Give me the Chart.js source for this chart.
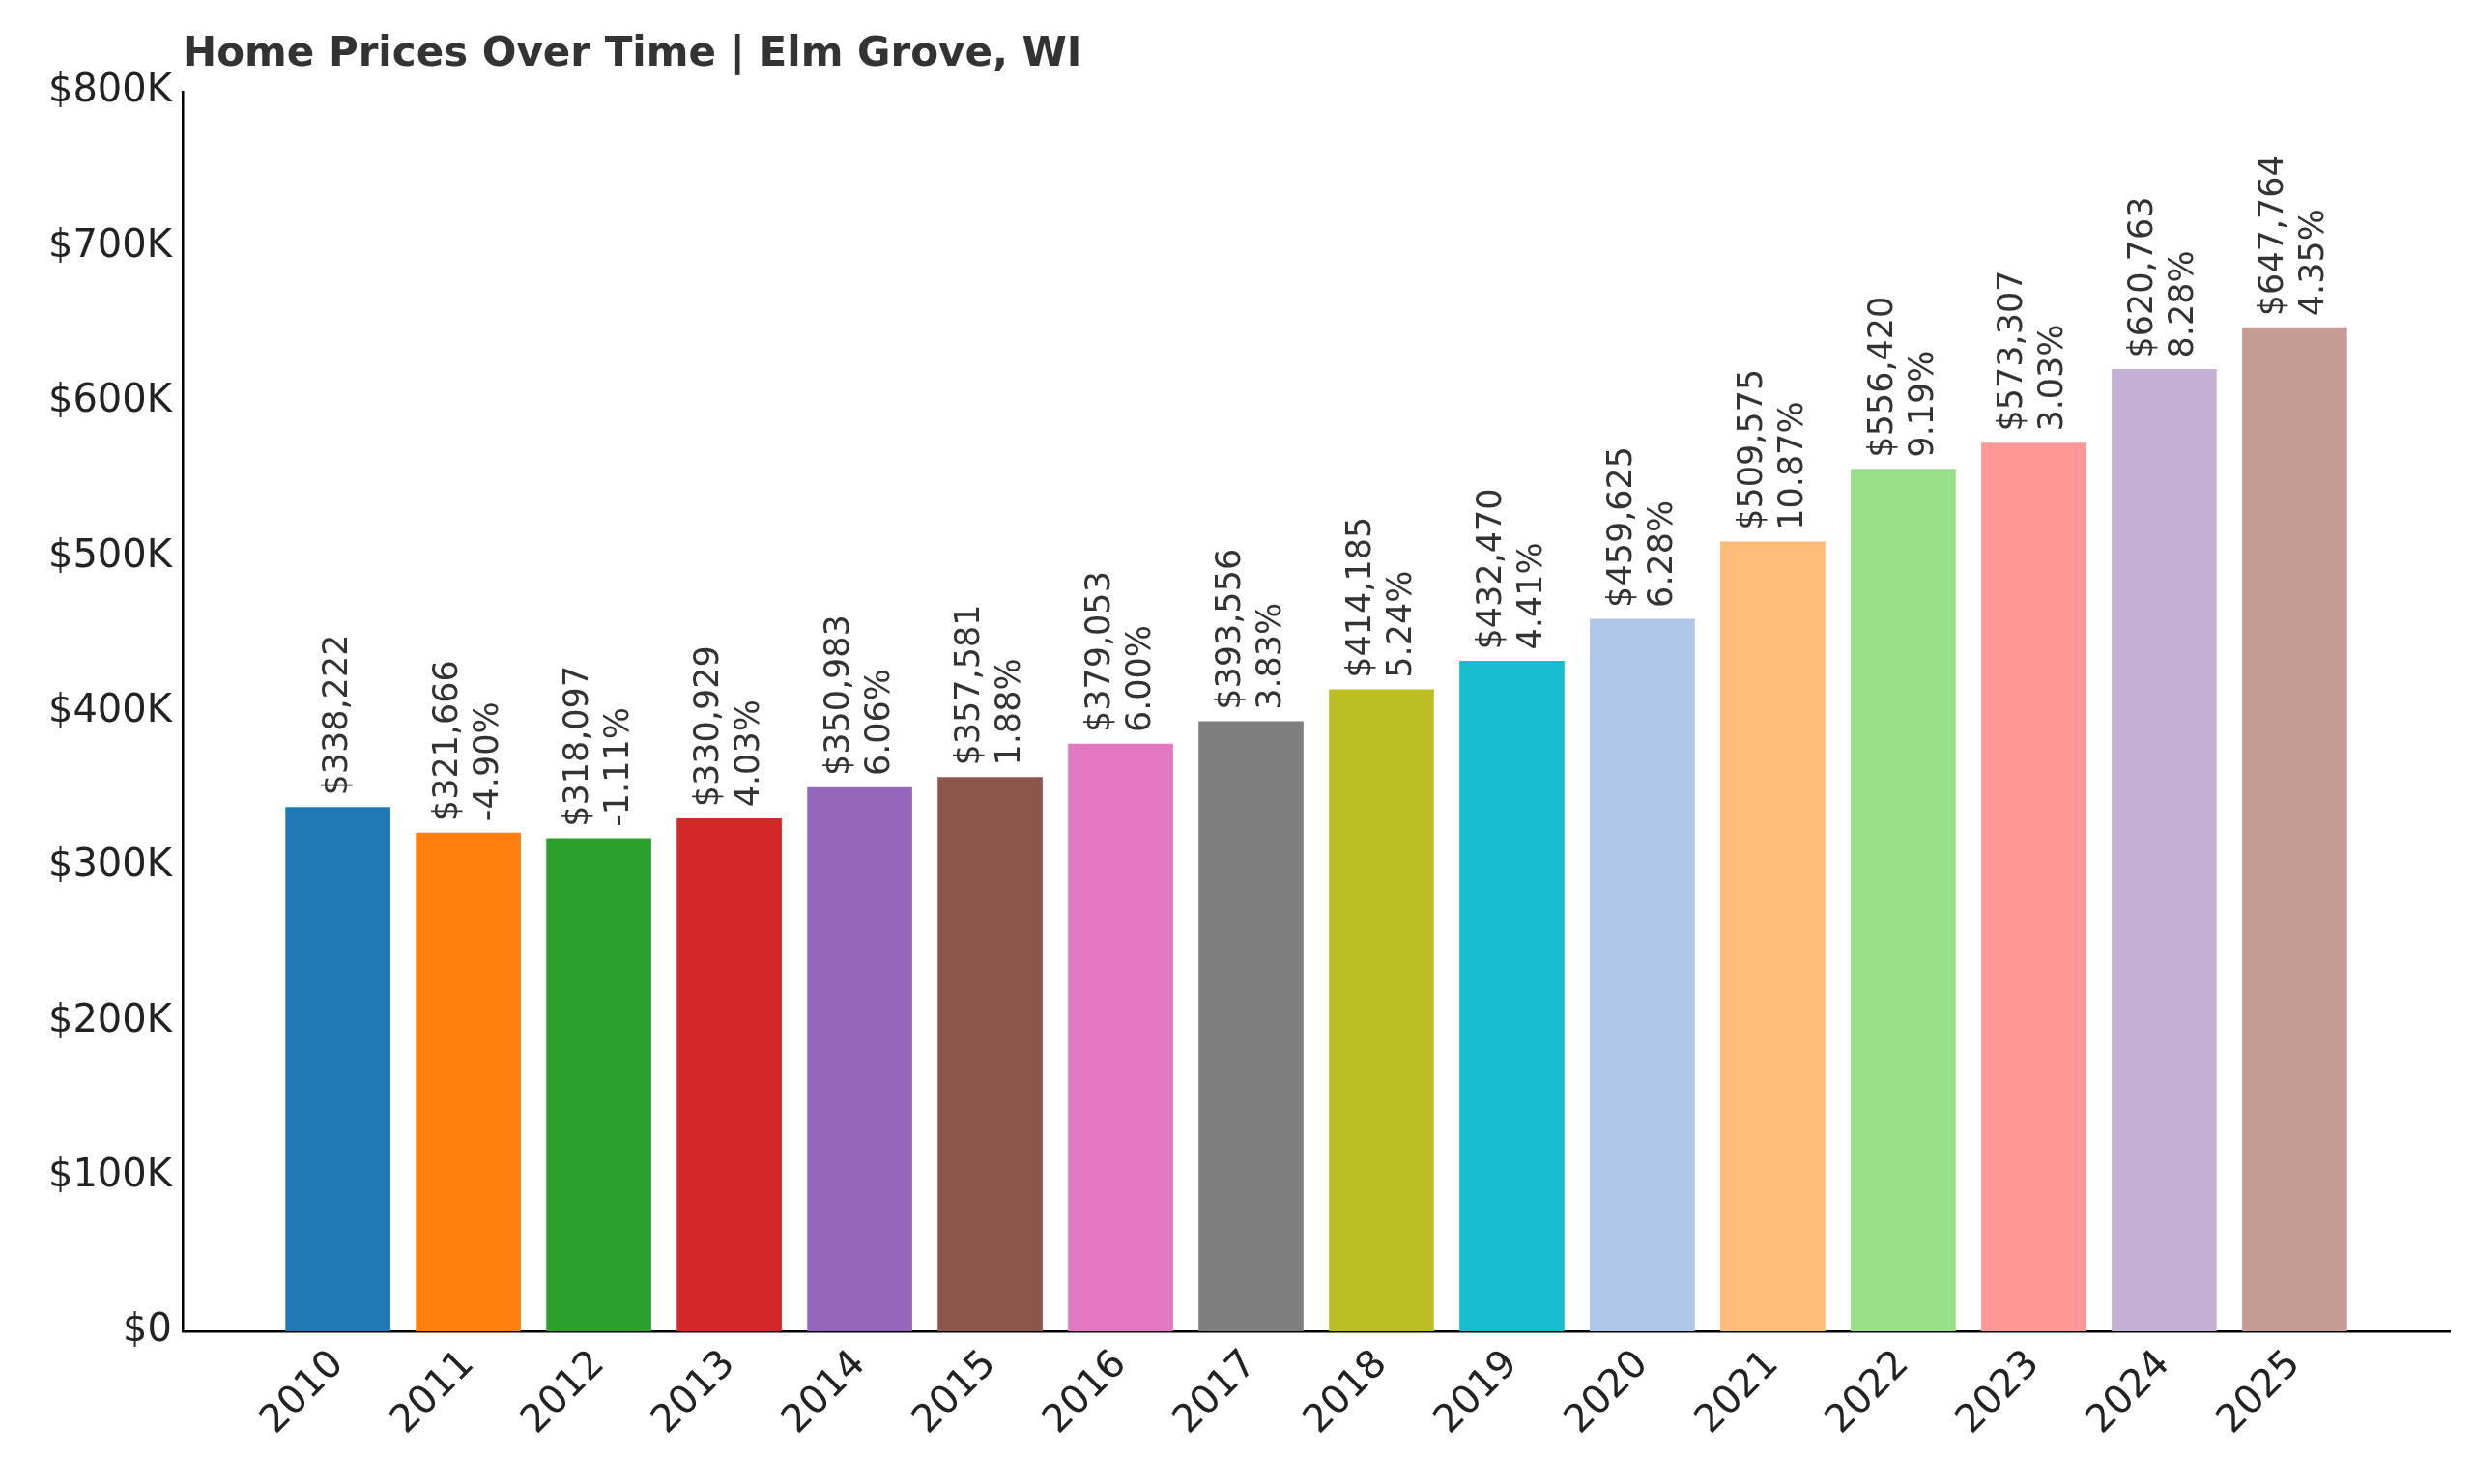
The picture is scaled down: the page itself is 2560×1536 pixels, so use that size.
<!DOCTYPE html>
<html><head><meta charset="utf-8">
<script src="https://cdn.jsdelivr.net/npm/chart.js@4"></script>
<style>body{margin:0;background:#fff}canvas{display:block}</style>
</head><body>
<canvas id="c" width="2560" height="1536"></canvas>
<script>
const years = ["2010","2011","2012","2013","2014","2015","2016","2017","2018","2019","2020","2021","2022","2023","2024","2025"];
const prices = [338222,321666,318097,330929,350983,357581,379053,393556,414185,432470,459625,509575,556420,573307,620763,647764];
const changes = [null,"-4.90%","-1.11%","4.03%","6.06%","1.88%","6.00%","3.83%","5.24%","4.41%","6.28%","10.87%","9.19%","3.03%","8.28%","4.35%"];
const colors = ["#1f77b4","#ff7f0e","#2ca02c","#d62728","#9467bd","#8c564b","#e377c2","#7f7f7f","#bcbd22","#17becf","#aec7e8","#ffbb78","#98df8a","#ff9896","#c5b0d5","#c49c94"];
const FONT = "'DejaVu Sans', sans-serif";

const labelPlugin = {
  id: 'labels',
  afterDatasetsDraw(chart) {
    const ctx = chart.ctx;
    const meta = chart.getDatasetMeta(0);
    ctx.save();
    ctx.fillStyle = '#333';
    ctx.font = '35px ' + FONT;
    ctx.textBaseline = 'middle';
    ctx.textAlign = 'left';
    meta.data.forEach((bar, i) => {
      const price = '$' + prices[i].toLocaleString('en-US');
      ctx.save();
      ctx.translate(bar.x, bar.y - 12);
      ctx.rotate(-Math.PI / 2);
      if (changes[i]) {
        ctx.fillText(price, 0, -21);
        ctx.fillText(changes[i], 0, 21);
      } else {
        ctx.fillText(price, 0, 0);
      }
      ctx.restore();
    });
    ctx.font = 'bold 42px ' + FONT;
    ctx.fillStyle = '#333';
    ctx.textBaseline = 'middle';
    ctx.fillText('Home Prices Over Time | Elm Grove, WI', 189, 57);
    ctx.restore();
  }
};

new Chart(document.getElementById('c'), {
  type: 'bar',
  data: {
    datasets: [{
      data: prices.map((p, i) => ({x: i, y: p})),
      backgroundColor: colors,
      barThickness: 108
    }]
  },
  options: {
    responsive: false,
    animation: false,
    layout: {padding: {top: 95, right: 25, left: 0, bottom: 0}},
    plugins: {legend: {display: false}, tooltip: {enabled: false}},
    scales: {
      x: {
        type: 'linear', min: -1.19, max: 16.19, offset: false,
        grid: {display: false, drawTicks: true, tickLength: 8, color: '#000'},
        border: {color: '#000', width: 2.5},
        afterBuildTicks(s) { s.ticks = years.map((y, i) => ({value: i})); },
        ticks: {
          autoSkip: false, maxRotation: 45, minRotation: 45,
          color: '#222', font: {size: 40, family: FONT},
          callback: v => years[v] ?? ''
        },
        afterFit(s) { s.height = 158; }
      },
      y: {
        min: 0, max: 800000,
        grid: {display: false, drawTicks: true, tickLength: 8},
        border: {color: '#000', width: 2.5},
        ticks: {
          stepSize: 100000, color: '#222', font: {size: 40, family: FONT},
          callback: v => '$' + (v / 1000) + (v ? 'K' : '')
        },
        afterFit(s) { s.width = 189; }
      }
    }
  },
  plugins: [labelPlugin]
});
</script>
</body></html>
